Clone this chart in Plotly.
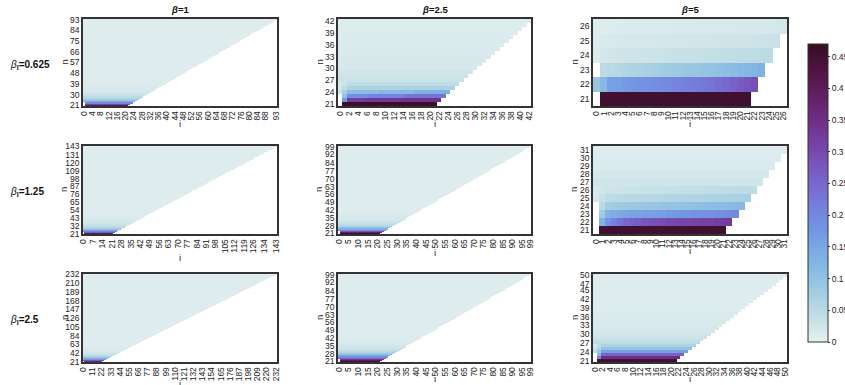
import numpy as np
import plotly.graph_objects as go
import plotly.colors as pc

nan = float("nan")

# ---------------- data ----------------
col_titles = ["<i>β</i>=1", "<i>β</i>=2.5", "<i>β</i>=5"]
row_titles = ["0.625", "1.25", "2.5"]
n_min = 21
n_max = [[93, 42, 26], [143, 99, 31], [232, 99, 50]]

# tick labels per panel
xt_11 = [0, 4, 8, 12, 16, 20, 24, 28, 32, 36, 40, 44, 48, 52, 56, 60, 64, 68, 72, 76, 80, 84, 88, 93]
yt_11 = [21, 30, 39, 48, 57, 66, 75, 84, 93]
xt_12 = list(range(0, 43, 2))
yt_12 = [21, 24, 27, 30, 33, 36, 39, 42]
xt_13 = list(range(0, 27))
yt_13 = [21, 22, 23, 24, 25, 26]
xt_21 = [0, 7, 14, 21, 28, 35, 42, 49, 56, 63, 70, 77, 84, 91, 98, 105, 112, 119, 126, 134, 143]
yt_21 = [21, 32, 43, 54, 65, 76, 87, 98, 109, 120, 131, 143]
xt_22 = [0, 5, 10, 15, 20, 25, 30, 35, 40, 45, 50, 55, 60, 65, 70, 75, 80, 85, 90, 95, 99]
yt_22 = [21, 28, 35, 42, 49, 56, 63, 70, 77, 84, 92, 99]
xt_23 = list(range(0, 32))
yt_23 = list(range(21, 32))
xt_31 = [0, 11, 22, 33, 44, 55, 66, 77, 88, 99, 110, 121, 132, 143, 154, 165, 176, 187, 198, 209, 220, 232]
yt_31 = [21, 42, 63, 84, 105, 126, 147, 168, 189, 210, 232]
xt_32 = [0, 5, 10, 15, 20, 25, 30, 35, 40, 45, 50, 55, 60, 65, 70, 75, 80, 85, 90, 95, 99]
yt_32 = [21, 28, 35, 42, 49, 56, 63, 70, 77, 84, 92, 99]
xt_33 = list(range(0, 49, 2)) + [50]
yt_33 = [21, 24, 27, 30, 33, 36, 39, 42, 45, 47, 50]

# row values (from n=21 upward); scalar = same value for i=0..n, list = explicit cells
rows_11 = [0.40, 0.31, 0.20, 0.14, 0.10, 0.075, 0.058, 0.046, 0.037, 0.031, 0.026, 0.022,
           0.019, 0.017, 0.015, 0.014, 0.013, 0.012, 0.011, 0.011, 0.010, 0.010]
tail_11 = 0.008

rows_12 = [
    [nan] + [0.46] * 21,
    [nan, 0.17] + [0.32] * 4 + [0.33] * 8 + [0.34] * 9,
    [nan, 0.10] + [0.19] * 5 + [0.21] * 8 + [0.23] * 9,
    [0.03, 0.07] + [0.11] * 7 + [0.12] * 8 + [0.135] * 8,
    [0.02, 0.045] + [0.065] * 24,
    [0.015, 0.03] + [0.045] * 25,
    0.032, 0.026, 0.022, 0.019, 0.017, 0.016, 0.015, 0.014, 0.013, 0.012, 0.012,
    0.011, 0.011, 0.010, 0.010, 0.010,
]
tail_12 = 0.009

rows_13 = [
    [nan] + [0.455] * 21,
    [0.09, 0.12, 0.16, 0.165, 0.17, 0.175, 0.18, 0.185, 0.19, 0.195, 0.20, 0.205, 0.21,
     0.215, 0.22, 0.225, 0.23, 0.24, 0.25, 0.26, 0.27, 0.28, 0.29],
    [nan, 0.045, 0.05, 0.055, 0.06, 0.063, 0.066, 0.07, 0.073, 0.076, 0.08, 0.083, 0.086,
     0.09, 0.093, 0.096, 0.10, 0.104, 0.108, 0.112, 0.117, 0.122, 0.127, 0.133],
    [0.012, 0.02, 0.022, 0.024, 0.026, 0.027, 0.028, 0.029, 0.03, 0.031, 0.032, 0.033,
     0.034, 0.035, 0.036, 0.037, 0.038, 0.039, 0.04, 0.041, 0.042, 0.043, 0.044, 0.046, 0.048],
    [0.01, 0.014, 0.015, 0.016, 0.017, 0.018, 0.018, 0.019, 0.019, 0.02, 0.02, 0.021, 0.021,
     0.022, 0.022, 0.023, 0.023, 0.024, 0.024, 0.025, 0.026, 0.027, 0.028, 0.029, 0.03, 0.032],
    [0.008, 0.01, 0.01, 0.011, 0.011, 0.012, 0.012, 0.012, 0.013, 0.013, 0.013, 0.014, 0.014,
     0.014, 0.015, 0.015, 0.015, 0.016, 0.016, 0.016, 0.017, 0.017, 0.018, 0.018, 0.019, 0.02, 0.021],
]
tail_13 = 0.008

rows_21 = [0.40, 0.34, 0.27, 0.21, 0.16, 0.125, 0.098, 0.078, 0.063, 0.052, 0.044, 0.037,
           0.032, 0.028, 0.025, 0.022, 0.020, 0.018, 0.017, 0.016, 0.015, 0.014, 0.013,
           0.012, 0.012, 0.011, 0.011, 0.010]
tail_21 = 0.008

rows_22 = [0.46, 0.38, 0.29, 0.20, 0.135, 0.095, 0.07, 0.054, 0.043, 0.035, 0.029, 0.025,
           0.022, 0.019, 0.017, 0.015, 0.014, 0.013, 0.012, 0.011, 0.010]
tail_22 = 0.008

rows_23 = [
    [nan] + [0.455] * 21,
    [nan, 0.13, 0.18, 0.21, 0.23, 0.25, 0.26, 0.27, 0.28, 0.285, 0.29, 0.295, 0.30, 0.30,
     0.305, 0.305, 0.31, 0.31, 0.315, 0.315, 0.32, 0.32, 0.325],
    [nan, 0.08, 0.13, 0.14, 0.145, 0.15, 0.155, 0.155, 0.16, 0.16, 0.165, 0.165, 0.17, 0.17,
     0.175, 0.175, 0.18, 0.18, 0.185, 0.185, 0.19, 0.19, 0.195, 0.20],
    [nan, 0.05, 0.075, 0.08, 0.082, 0.084, 0.086, 0.088, 0.09, 0.092, 0.094, 0.096, 0.098,
     0.10, 0.10, 0.102, 0.104, 0.106, 0.108, 0.11, 0.112, 0.114, 0.116, 0.118, 0.12],
    [0.02, 0.035, 0.045, 0.047, 0.049, 0.05, 0.051, 0.052, 0.053, 0.054, 0.055, 0.056, 0.057,
     0.058, 0.059, 0.06, 0.061, 0.062, 0.063, 0.064, 0.065, 0.066, 0.067, 0.068, 0.07, 0.072],
    [0.015, 0.022, 0.028, 0.029, 0.03, 0.031, 0.032, 0.032, 0.033, 0.034, 0.034, 0.035, 0.036,
     0.036, 0.037, 0.038, 0.038, 0.039, 0.04, 0.04, 0.041, 0.042, 0.043, 0.044, 0.045, 0.046, 0.048],
    0.024, 0.017, 0.013, 0.011, 0.009,
]
tail_23 = 0.008

rows_31 = [0.40, 0.36, 0.32, 0.28, 0.24, 0.205, 0.175, 0.15, 0.128, 0.11, 0.095, 0.082,
           0.071, 0.062, 0.054, 0.047, 0.042, 0.037, 0.033, 0.03, 0.027, 0.025, 0.023,
           0.021, 0.019, 0.018, 0.017, 0.016, 0.015, 0.014, 0.013, 0.013, 0.012, 0.012,
           0.011, 0.011, 0.010, 0.010]
tail_31 = 0.008

rows_32 = [0.45, 0.40, 0.33, 0.26, 0.19, 0.14, 0.105, 0.08, 0.062, 0.05, 0.041, 0.034,
           0.029, 0.025, 0.022, 0.019, 0.017, 0.015, 0.014, 0.013, 0.012, 0.011, 0.010]
tail_32 = 0.008

rows_33 = [
    [nan] + [0.45] * 21,
    [nan, 0.20] + [0.35] * 21,
    [nan, 0.12] + [0.26] * 22,
    [0.04, 0.09] + [0.16] * 23,
    [0.03, 0.06] + [0.10] * 24,
    [0.02, 0.04] + [0.065] * 25,
    0.045, 0.035, 0.028, 0.023, 0.020, 0.018, 0.016, 0.015, 0.014, 0.013, 0.012,
    0.011, 0.011, 0.010, 0.010,
]
tail_33 = 0.009

panel_rows = [[rows_11, rows_12, rows_13], [rows_21, rows_22, rows_23], [rows_31, rows_32, rows_33]]
panel_tails = [[tail_11, tail_12, tail_13], [tail_21, tail_22, tail_23], [tail_31, tail_32, tail_33]]
panel_xt = [[xt_11, xt_12, xt_13], [xt_21, xt_22, xt_23], [xt_31, xt_32, xt_33]]
panel_yt = [[yt_11, yt_12, yt_13], [yt_21, yt_22, yt_23], [yt_31, yt_32, yt_33]]

cb_ticks = [0, 0.05, 0.1, 0.15, 0.2, 0.25, 0.3, 0.35, 0.4, 0.45]


def build(N, rows, tail, left_nan=3):
    ns = list(range(n_min, N + 1))
    z = np.full((len(ns), N + 1), nan)
    for k, n in enumerate(ns):
        r = rows[k] if k < len(rows) else tail
        if isinstance(r, list):
            z[k, :len(r)] = r
        else:
            z[k, :n + 1] = r
            if k < left_nan:
                z[k, 0] = nan
    return z


# ---------------- layout geometry (px) ----------------
W, H = 845, 385
col_px = [(83, 277), (338, 531), (593, 787)]
row_px = [(19, 106), (146, 234), (274, 362)]
i_label_y = [[123, 123, 123], [257, 252, 250], [383, 378, 378]]

FONT = "Liberation Sans, Arial, sans-serif"
TXT = "#222222"

fig = go.Figure()
layout = dict()
annotations = []

k = 0
for r in range(3):
    for c in range(3):
        k += 1
        N = n_max[r][c]
        z = build(N, panel_rows[r][c], panel_tails[r][c])
        xs = list(range(0, N + 1))
        ys = list(range(n_min, N + 1))
        sfx = "" if k == 1 else str(k)
        fig.add_trace(go.Heatmap(
            z=z, x=xs, y=ys, coloraxis="coloraxis",
            xaxis="x" + sfx, yaxis="y" + sfx, hoverongaps=False,
        ))
        x0, x1 = col_px[c]
        y0, y1 = row_px[r]
        xt = panel_xt[r][c]
        yt = panel_yt[r][c]
        axis_common = dict(
            showline=True, mirror=True, linecolor="#333333", linewidth=1.5,
            showgrid=False, zeroline=False, ticks="",
            tickfont=dict(family=FONT, size=8.5, color=TXT),
        )
        layout["xaxis" + sfx] = dict(
            domain=[x0 / W, x1 / W], range=[-0.5, N + 0.5],
            tickmode="array", tickvals=xt, ticktext=[str(v) for v in xt],
            tickangle=-90, anchor="y" + sfx, **axis_common,
        )
        layout["yaxis" + sfx] = dict(
            domain=[1 - y1 / H, 1 - y0 / H], range=[n_min - 0.5, N + 0.5],
            tickmode="array", tickvals=yt, ticktext=[str(v) for v in yt],
            anchor="x" + sfx, **axis_common,
        )
        # axis labels
        annotations.append(dict(
            text="n", x=(x0 - 19) / W, y=1 - ((y0 + y1) / 2) / H, xref="paper", yref="paper",
            showarrow=False, textangle=-90, xanchor="center", yanchor="middle",
            font=dict(family=FONT, size=9.5, color=TXT),
        ))
        annotations.append(dict(
            text="i", x=((x0 + x1) / 2) / W, y=1 - i_label_y[r][c] / H, xref="paper", yref="paper",
            showarrow=False, xanchor="center", yanchor="middle",
            font=dict(family=FONT, size=9.5, color=TXT),
        ))

for c in range(3):
    x0, x1 = col_px[c]
    annotations.append(dict(
        text="<b>" + col_titles[c] + "</b>", x=((x0 + x1) / 2) / W, y=1 - 17 / H,
        xref="paper", yref="paper", showarrow=False, xanchor="center", yanchor="bottom",
        font=dict(family=FONT, size=9.5, color="#111111"),
    ))

for r in range(3):
    y0, y1 = row_px[r]
    annotations.append(dict(
        text="<i>β</i><sub><b>I</b></sub><b>=" + row_titles[r] + "</b>",
        x=8 / W, y=1 - ((y0 + y1) / 2 + 2) / H, xref="paper", yref="paper",
        showarrow=False, xanchor="left", yanchor="middle",
        font=dict(family=FONT, size=10, color="#111111"),
    ))

fig.update_layout(
    width=W, height=H,
    margin=dict(l=0, r=0, t=0, b=0, autoexpand=False),
    paper_bgcolor="white", plot_bgcolor="white",
    annotations=annotations,
    coloraxis=dict(
        colorscale=pc.cmocean.dense, cmin=0, cmax=0.47,
        colorbar=dict(
            x=808 / W, xanchor="left", y=1 - 342 / H, yanchor="bottom",
            xpad=0, ypad=0,
            len=298 / H, lenmode="fraction", thickness=20, thicknessmode="pixels",
            outlinewidth=1, outlinecolor="#333333",
            tickmode="array", tickvals=cb_ticks, ticktext=[("%g" % v) for v in cb_ticks],
            ticks="outside", ticklen=2, tickcolor="#333333",
            tickfont=dict(family=FONT, size=8.5, color=TXT),
        ),
    ),
    **layout,
)

fig.write_html("out.html")
